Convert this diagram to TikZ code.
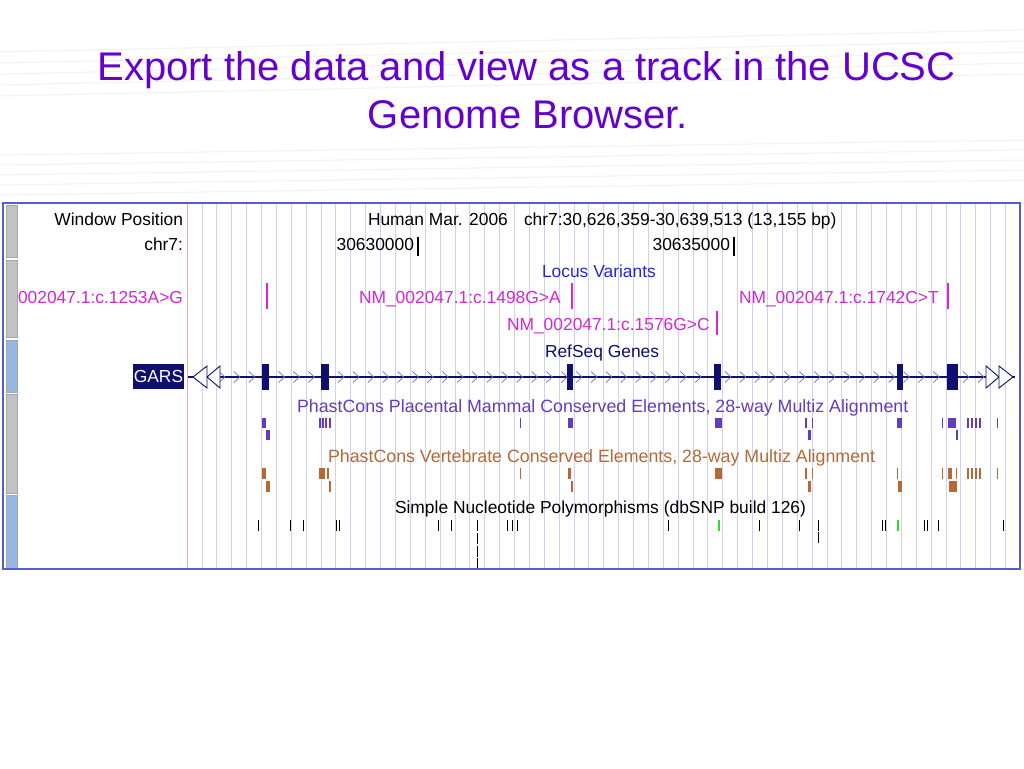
\documentclass[tikz,border=0pt]{standalone}
\usepackage{fontspec}
\setmainfont{Liberation Sans}
\definecolor{titlec}{RGB}{102,0,204}
\definecolor{framec}{RGB}{90,90,210}
\definecolor{gridc}{RGB}{208,208,245}
\definecolor{pinkc}{RGB}{240,175,175}
\definecolor{barg}{RGB}{195,195,195}
\definecolor{barb}{RGB}{150,182,228}
\definecolor{locusc}{RGB}{40,40,200}
\definecolor{magc}{RGB}{210,40,210}
\definecolor{navyc}{RGB}{15,15,110}
\definecolor{chevc}{RGB}{110,110,190}
\definecolor{placc}{RGB}{100,60,190}
\definecolor{vertc}{RGB}{180,105,55}
\definecolor{snpg}{RGB}{40,225,40}
\definecolor{staffc}{RGB}{241,241,241}
\tikzset{
  lbl/.style={inner sep=0pt, outer sep=0pt, font=\fontsize{17.4}{20}\selectfont},
  widelbl/.style={inner sep=0pt, outer sep=0pt, font=\fontsize{17.8}{20}\selectfont},
  ttl/.style={inner sep=0pt, outer sep=0pt, text=titlec, font=\fontsize{40}{48}\selectfont},
  gridln/.style={draw=gridc, line width=0.9pt},
  sidebar/.style={draw=black!35, line width=0.5pt},
  chev/.style={draw=chevc, line width=0.7pt},
  exon/.style={fill=navyc},
  endtri/.style={draw=navyc, fill=white, line width=0.9pt, line join=miter},
  snp/.style={draw=black, line width=1pt},
  staff/.style={draw=staffc, line width=1pt}
}
\begin{document}
\begin{tikzpicture}[x=1pt,y=-1pt]
\useasboundingbox (0,0) rectangle (1024,768);
\fill[white] (0,0) rectangle (1024,768);
% faint music staves in the background
\foreach \s in {0,...,4}{
  \draw[staff] (0,{52+11*\s}) -- (1024,{30+11*\s});
  \draw[staff] (0,{155+10*\s}) -- (1024,{140+10*\s});
}
% title
\node[ttl, anchor=base] (t1) at (526.5,80) {Export the data and view as a track in the UCSC};
\node[ttl, anchor=base] (t2) at (528,128) {Genome Browser.};
% panel
\fill[white] (3,203) rectangle (1020,569);
\foreach \i in {0,...,54}{
  \draw[gridln] ({202+14.88*\i},204) -- ({202+14.88*\i},568);
}
\draw[draw=pinkc, line width=0.9pt] (187,204) -- (187,568);
% clipped left label (cut off by the side bar, as in the browser)
\begin{scope}
\clip (18,204) rectangle (186,568);
\node[lbl, text=magc, anchor=base east] (v0) at (183,303) {NM\_002047.1:c.1253A>G};
\end{scope}
% side bars
\filldraw[sidebar, fill=barg] (6,205) rectangle (17,257);
\filldraw[sidebar, fill=barg] (6,260) rectangle (17,337);
\filldraw[sidebar, fill=barb] (6,340) rectangle (17,392);
\filldraw[sidebar, fill=barg] (6,394) rectangle (17,493);
\filldraw[sidebar, fill=barb] (6,495) rectangle (17,568);
% ruler
\node[lbl, anchor=base east] (wp) at (183,225) {Window Position};
\node[lbl, anchor=base east] (chr) at (183,250) {chr7:};
\node[lbl, anchor=base west] (hm) at (368,225) {Human Mar. 2006};
\node[lbl, anchor=base west] (pos) at (524,225) {chr7:30,626,359-30,639,513 (13,155 bp)};
\node[lbl, anchor=base east] (r1) at (414,250) {30630000};
\node[lbl, anchor=base east] (r2) at (730,250) {30635000};
\draw[black, line width=1.2pt] (418,237) -- (418,256);
\draw[black, line width=1.2pt] (734,237) -- (734,256);
% locus variants
\node[lbl, text=locusc, anchor=base west] (lv) at (542,277) {Locus Variants};
\node[lbl, text=magc, anchor=base west] (v1) at (359,303) {NM\_002047.1:c.1498G>A};
\node[lbl, text=magc, anchor=base west] (v2) at (507,330) {NM\_002047.1:c.1576G>C};
\node[lbl, text=magc, anchor=base west] (v3) at (739,303) {NM\_002047.1:c.1742C>T};
\foreach \x/\ya/\yb in {267/283/309, 572/283/309, 717/311/335, 948/283/309}{
  \draw[magc, line width=1.2pt] (\x,\ya) -- (\x,\yb);
}
% RefSeq genes
\node[lbl, text=navyc, anchor=base west] (rs) at (545,357) {RefSeq Genes};
\node[lbl, fill=navyc, text=white, minimum width=51pt, minimum height=25pt, anchor=center] (gars) at (158.5,376.5) {GARS};
\draw[navyc, line width=1.3pt] (188,377) -- (1015,377);
\foreach \k in {0,...,51}{
  \ifnum\k=3 \else\ifnum\k=7 \else\ifnum\k=33 \else\ifnum\k=49 \else
    \draw[chev] ({222+14.88*\k-3},371.5) -- ({222+14.88*\k+3},377) -- ({222+14.88*\k-3},382.5);
  \fi\fi\fi\fi
}
\foreach \a/\b in {262/269, 321/329, 567/573, 714/721, 897/903, 947/958}{
  \fill[exon] (\a,364) rectangle (\b,390);
}
\draw[endtri] (207,366) -- (193,377) -- (207,388) -- cycle;
\draw[endtri] (220,366) -- (207,377) -- (220,388) -- cycle;
\draw[endtri] (986,366) -- (999,377) -- (986,388) -- cycle;
\draw[endtri] (999,366) -- (1013,377) -- (999,388) -- cycle;
% PhastCons placental
\node[widelbl, text=placc, anchor=base west] (pc) at (297,412) {PhastCons Placental Mammal Conserved Elements, 28-way Multiz Alignment};
\foreach \a/\b in {262/266, 319/320.5, 322/323.5, 325/327, 329/331, 519.5/520.8, 568/573, 715/722, 805/806.5, 811.5/813, 897/902, 941.5/943, 948/956, 967/968.5, 971/972.5, 975/976.5, 979/980.5, 996.5/998}{
  \fill[placc] (\a,418) rectangle (\b,428);
}
\foreach \a/\b in {266/270, 808/811, 956/958}{
  \fill[placc] (\a,430) rectangle (\b,440);
}
% PhastCons vertebrate
\node[widelbl, text=vertc, anchor=base west] (vc) at (328,462) {PhastCons Vertebrate Conserved Elements, 28-way Multiz Alignment};
\foreach \a/\b in {262/266, 319/325, 327/329, 519.5/520.8, 568/570.5, 715/722, 805/807, 811.5/813, 896.5/898, 941.5/943, 948/952, 955.5/957, 967/968.5, 971/972.5, 975/976.5, 979/980.5, 996.5/998}{
  \fill[vertc] (\a,468) rectangle (\b,479);
}
\foreach \a/\b in {266/270, 329/330.5, 571/573, 808/811, 898/902, 949/957}{
  \fill[vertc] (\a,481) rectangle (\b,492);
}
% SNPs
\node[lbl, anchor=base west] (snpl) at (395,513) {Simple Nucleotide Polymorphisms (dbSNP build 126)};
\foreach \x in {258, 290, 303, 336, 339, 438, 451, 507, 512, 517, 668, 759, 799, 882, 885, 924, 927, 938, 1003}{
  \draw[snp] (\x,520) -- (\x,531);
}
\draw[snp] (477,520) -- (477,531);
\draw[snp] (477,533) -- (477,544);
\draw[snp] (477,546) -- (477,557);
\draw[snp] (477,558) -- (477,568);
\draw[snp] (818,520) -- (818,531);
\draw[snp] (818,532) -- (818,543);
\draw[snpg, line width=1.2pt] (719,520) -- (719,531);
\draw[snpg, line width=1.2pt] (898,520) -- (898,531);
% frame
\draw[framec, line width=2pt] (3,203) rectangle (1020,569);
\end{tikzpicture}
\end{document}
